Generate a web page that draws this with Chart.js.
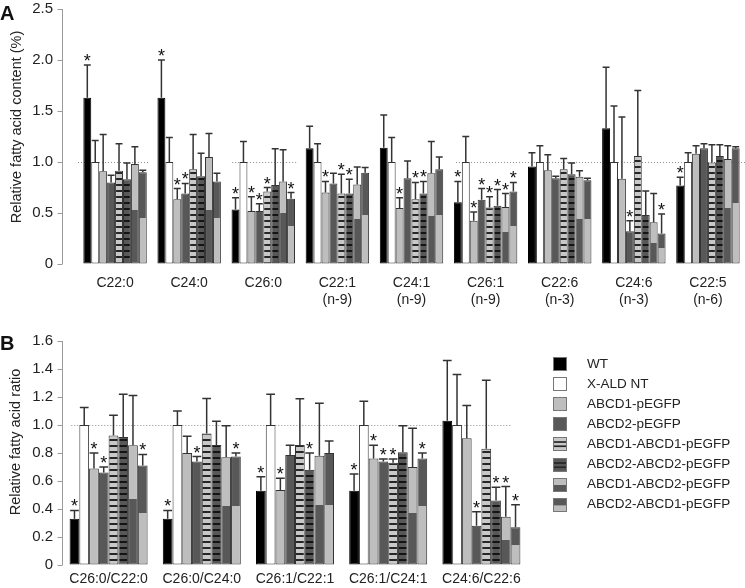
<!DOCTYPE html>
<html>
<head>
<meta charset="utf-8">
<script src="https://cdn.jsdelivr.net/npm/chart.js@4.4.1/dist/chart.umd.min.js"></script>
<style>
  html, body { margin: 0; padding: 0; background: #fff; }
  #wrap { position: relative; width: 745px; height: 588px; overflow: hidden;
          font-family: "Liberation Sans", Arial, sans-serif; color: #111; }
  canvas { position: absolute; left: 0; }
  #chartA { top: 0; }
  #chartB { top: 315px; }
  .panel { position: absolute; left: 0; font-weight: bold; font-size: 20px; line-height: 20px; }
</style>
</head>
<body>
<div id="wrap">
  <canvas id="chartA" width="745" height="310"></canvas>
  <canvas id="chartB" width="745" height="273"></canvas>
  <div class="panel" style="top:3px">A</div>
  <div class="panel" style="top:333px">B</div>
</div>
<script>
// strains, in legend order
var strains = ['WT', 'X-ALD NT', 'ABCD1-pEGFP', 'ABCD2-pEGFP',
  'ABCD1-ABCD1-pEGFP', 'ABCD2-ABCD2-pEGFP', 'ABCD1-ABCD2-pEGFP', 'ABCD2-ABCD1-pEGFP'];

// panel A categories and y ticks
var fattyAcids = [['C22:0'], ['C24:0'], ['C26:0'], ['C22:1', '(n-9)'], ['C24:1', '(n-9)'],
  ['C26:1', '(n-9)'], ['C22:6', '(n-3)'], ['C24:6', '(n-3)'], ['C22:5', '(n-6)']];
var ticksA = [0, 0.5, 1.0, 1.5, 2.0, 2.5];

// panel A: mean, one row per strain
var meanA = [
  [1.63, 1.63, 0.535, 1.135, 1.14, 0.605, 0.955, 1.33, 0.77],
  [1.0, 1.0, 1.0, 1.0, 1.0, 1.0, 1.0, 1.0, 1.0],
  [0.91, 0.635, 0.52, 0.70, 0.55, 0.425, 0.92, 0.835, 1.08],
  [0.80, 0.69, 0.52, 0.79, 0.84, 0.63, 0.84, 0.32, 1.135],
  [0.915, 0.93, 0.71, 0.69, 0.635, 0.555, 0.93, 1.06, 0.995],
  [0.83, 0.86, 0.775, 0.69, 0.69, 0.57, 0.88, 0.48, 1.06],
  [0.98, 1.05, 0.81, 0.78, 0.89, 0.56, 0.855, 0.41, 1.03],
  [0.90, 0.81, 0.64, 0.895, 0.93, 0.71, 0.82, 0.30, 1.135]
];
// panel A: SD (upper error bar)
var sdA = [
  [0.32, 0.37, 0.115, 0.215, 0.32, 0.205, 0.135, 0.60, 0.08],
  [0.21, 0.24, 0.20, 0.18, 0.24, 0.25, 0.16, 0.55, 0.09],
  [0.36, 0.105, 0.14, 0.11, 0.10, 0.085, 0.15, 0.605, 0.08],
  [0.07, 0.10, 0.07, 0.10, 0.17, 0.11, 0.02, 0.105, 0.045],
  [0.265, 0.34, 0.04, 0.19, 0.165, 0.105, 0.105, 0.64, 0.175],
  [0.16, 0.225, 0.355, 0.14, 0.12, 0.16, 0.11, 0.235, 0.11],
  [0.17, 0.23, 0.31, 0.17, 0.31, 0.13, 0.06, 0.28, 0.13],
  [0.02, 0.08, 0.06, 0.05, 0.12, 0.09, 0.02, 0.19, 0.015]
];
// panel A: significance (*)
var starA = [
  [1, 1, 1, 0, 0, 1, 0, 0, 1],
  [0, 0, 0, 0, 0, 0, 0, 0, 0],
  [0, 1, 1, 1, 1, 1, 0, 0, 0],
  [0, 1, 1, 0, 0, 1, 0, 1, 0],
  [0, 0, 1, 1, 1, 1, 0, 0, 0],
  [0, 0, 0, 1, 1, 1, 0, 0, 0],
  [0, 0, 0, 0, 0, 1, 0, 0, 0],
  [0, 0, 1, 0, 0, 1, 0, 1, 0]
];
// panel A: height of the lower colour in the two-tone bars
var lowA12 = [0.53, 0.53, 0.50, 0.44, 0.47, 0.31, 0.44, 0.21, 0.545];
var lowA21 = [0.45, 0.45, 0.37, 0.48, 0.48, 0.37, 0.44, 0.155, 0.595];

// panel B
var ratios = ['C26:0/C22:0', 'C26:0/C24:0', 'C26:1/C22:1', 'C26:1/C24:1', 'C24:6/C22:6'];
var ticksB = [0, 0.2, 0.4, 0.6, 0.8, 1.0, 1.2, 1.4, 1.6];
var meanB = [
  [0.33, 0.33, 0.53, 0.53, 1.03],
  [1.0, 1.0, 1.0, 1.0, 1.0],
  [0.69, 0.80, 0.535, 0.76, 0.905],
  [0.66, 0.74, 0.785, 0.74, 0.28],
  [0.925, 0.94, 0.857, 0.73, 0.83],
  [0.915, 0.857, 0.68, 0.805, 0.46],
  [0.855, 0.77, 0.78, 0.70, 0.345],
  [0.71, 0.775, 0.80, 0.76, 0.27]
];
var sdB = [
  [0.06, 0.06, 0.10, 0.12, 0.43],
  [0.125, 0.10, 0.22, 0.17, 0.36],
  [0.11, 0.12, 0.085, 0.095, 0.235],
  [0.04, 0.035, 0.07, 0.017, 0.10],
  [0.145, 0.25, 0.33, 0.027, 0.49],
  [0.305, 0.17, 0.12, 0.19, 0.095],
  [0.355, 0.225, 0.375, 0.276, 0.215],
  [0.08, 0.025, 0.085, 0.04, 0.16]
];
var starB = [
  [1, 1, 1, 1, 0],
  [0, 0, 0, 0, 0],
  [1, 0, 1, 1, 0],
  [1, 1, 0, 1, 1],
  [0, 0, 0, 1, 0],
  [0, 0, 1, 0, 1],
  [0, 0, 0, 0, 1],
  [1, 1, 0, 1, 1]
];
var lowB12 = [0.47, 0.42, 0.43, 0.374, 0.18];
var lowB21 = [0.37, 0.42, 0.43, 0.42, 0.14];

Chart.defaults.font.family = '"Liberation Sans", Arial, sans-serif';
Chart.defaults.color = '#222';

var LIGHT = '#bebebe';
var DARK = '#585858';
var LINE = '#262626';
var EDGE = '#333333';

function stripes(cell, line) {
  var c = document.createElement('canvas');
  c.width = 6; c.height = 6;
  var g = c.getContext('2d');
  g.fillStyle = cell; g.fillRect(0, 0, 6, 6);
  g.fillStyle = line; g.fillRect(0, 4, 6, 2);
  return g.createPattern(c, 'repeat');
}

// light/dark split bar, the split read from the lows array
function twoTone(top, bottom, means, lows) {
  return function (ctx) {
    var y = ctx.chart.scales.y;
    var i = ctx.dataIndex;
    if (!y || i === undefined) return top;
    var yTop = y.getPixelForValue(means[i]);
    var yBase = y.getPixelForValue(0);
    if (!isFinite(yTop) || !isFinite(yBase) || yBase <= yTop) return top;
    var f = 1 - lows[i] / means[i];
    var grad = ctx.chart.ctx.createLinearGradient(0, yTop, 0, yBase);
    grad.addColorStop(0, top);
    grad.addColorStop(f, top);
    grad.addColorStop(f, bottom);
    grad.addColorStop(1, bottom);
    return grad;
  };
}

function buildDatasets(means, sds, stars, low12, low21) {
  var fills = ['#000000', '#ffffff', LIGHT, DARK,
    stripes('#c8c8c8', LINE), stripes(DARK, '#141414'),
    twoTone(LIGHT, DARK, means[6], low12), twoTone(DARK, LIGHT, means[7], low21)];
  return strains.map(function (name, i) {
    return {
      label: name,
      data: means[i],
      sd: sds[i],
      stars: stars[i],
      backgroundColor: fills[i],
      borderColor: i === 0 ? '#000' : EDGE,
      borderWidth: 1,
      borderSkipped: false
    };
  });
}

function paintSwatch(g, i, x, y, s) {
  function band(c, a, b) { g.fillStyle = c; g.fillRect(x, y + a * s, s, (b - a) * s); }
  var solid = ['#000000', '#ffffff', LIGHT, DARK];
  if (i === 4 || i === 5) {
    band(i === 4 ? '#c8c8c8' : DARK, 0, 1);
    band(LINE, 0.3, 0.42); band(LINE, 0.6, 0.72);
  } else if (i === 6) {
    band(LIGHT, 0, 0.5); band(DARK, 0.5, 1);
  } else if (i === 7) {
    band(DARK, 0, 0.55); band(LIGHT, 0.55, 1);
  } else {
    band(solid[i], 0, 1);
  }
  g.strokeStyle = '#777'; g.lineWidth = 1;
  g.strokeRect(x + 0.5, y + 0.5, s - 1, s - 1);
}

var errorBars = {
  id: 'errorBars',
  afterDatasetsDraw: function (chart) {
    var g = chart.ctx, y = chart.scales.y;
    g.save();
    chart.data.datasets.forEach(function (ds, i) {
      chart.getDatasetMeta(i).data.forEach(function (bar, j) {
        var top = y.getPixelForValue(ds.data[j] + ds.sd[j]);
        var half = bar.width / 2 - 0.5;
        g.strokeStyle = EDGE; g.lineWidth = 1.5;
        g.beginPath();
        g.moveTo(bar.x, bar.y); g.lineTo(bar.x, top);
        g.moveTo(bar.x - half, top); g.lineTo(bar.x + half, top);
        g.stroke();
        if (ds.stars[j]) {
          g.fillStyle = '#111'; g.font = '18px "Liberation Sans", Arial';
          g.textAlign = 'center'; g.textBaseline = 'alphabetic';
          g.fillText('*', bar.x, top + 2);
        }
      });
    });
    g.restore();
  }
};

var refLine = {
  id: 'refLine',
  beforeDatasetsDraw: function (chart, args, o) {
    var x = chart.scales.x, y = chart.scales.y, g = chart.ctx;
    var py = Math.round(y.getPixelForValue(o.value)) + 0.5;
    g.save();
    g.strokeStyle = '#8c8c8c'; g.lineWidth = 1; g.setLineDash([1, 2]);
    o.spans.forEach(function (s) {
      g.beginPath();
      g.moveTo(x.getPixelForValue(s[0]), py);
      g.lineTo(x.getPixelForValue(s[1]), py);
      g.stroke();
    });
    g.restore();
  }
};

var axisLine = {
  id: 'axisLine',
  afterDraw: function (chart, args, o) {
    var y = chart.scales.y, g = chart.ctx, ax = o.x + 0.5;
    g.save();
    g.strokeStyle = '#9a9a9a'; g.lineWidth = 1;
    g.beginPath();
    g.moveTo(ax, y.getPixelForValue(y.max));
    g.lineTo(ax, y.getPixelForValue(y.min));
    y.ticks.forEach(function (t) {
      var p = Math.round(y.getPixelForValue(t.value)) + 0.5;
      g.moveTo(ax - 5, p); g.lineTo(ax, p);
    });
    g.stroke();
    g.restore();
  }
};

var sideTitle = {
  id: 'sideTitle',
  afterDraw: function (chart, args, o) {
    var g = chart.ctx;
    g.save();
    g.translate(o.x, o.y); g.rotate(-Math.PI / 2);
    g.fillStyle = '#222'; g.font = o.size + 'px "Liberation Sans", Arial';
    g.textAlign = 'center'; g.textBaseline = 'middle';
    g.fillText(o.text, 0, 0);
    g.restore();
  }
};

var swatchLegend = {
  id: 'swatchLegend',
  afterDraw: function (chart, args, o) {
    var g = chart.ctx;
    g.save();
    strains.forEach(function (name, i) {
      var cy = o.top + i * o.step;
      paintSwatch(g, i, o.left, Math.round(cy - o.box / 2), o.box);
      g.fillStyle = '#222'; g.font = o.size + 'px "Liberation Sans", Arial';
      g.textAlign = 'left'; g.textBaseline = 'middle';
      g.fillText(name, o.textLeft, cy);
    });
    g.restore();
  }
};

// the gap between labels and plot comes from an invisible tick length,
// so it does not add to the top padding of the axis
function yScale(ticks, gap, width) {
  return {
    min: ticks[0], max: ticks[ticks.length - 1],
    ticks: {
      stepSize: ticks[1] - ticks[0], padding: 0, color: '#222', font: { size: 15 },
      callback: function (v) { return v === 0 ? '0' : v.toFixed(1); }
    },
    grid: { display: true, drawOnChartArea: false, drawTicks: true, tickLength: gap,
            color: 'rgba(0,0,0,0)' },
    border: { display: false },
    afterFit: function (s) { s.width = width; }
  };
}

function xScale(pad, height) {
  return {
    ticks: { padding: pad, color: '#222', font: { size: 14 }, maxRotation: 0, autoSkip: false },
    grid: { display: false, drawTicks: false },
    border: { display: false },
    afterFit: function (s) { s.height = height; }
  };
}

var chartA = new Chart(document.getElementById('chartA'), {
  type: 'bar',
  data: { labels: fattyAcids, datasets: buildDatasets(meanA, sdA, starA, lowA12, lowA21) },
  options: {
    responsive: false, animation: false, devicePixelRatio: 1,
    layout: { padding: { top: 9, right: 0, bottom: 0, left: 0 } },
    datasets: { bar: { categoryPercentage: 0.856, barPercentage: 1 } },
    plugins: {
      legend: { display: false }, tooltip: { enabled: false },
      refLine: { value: 1, spans: [[-0.5, 0.47], [1.58, 2.45], [4.6, 8.6]] },
      axisLine: { x: 62 },
      sideTitle: { text: 'Relative fatty acid content (%)', x: 16.5, y: 127, size: 14.5 }
    },
    scales: { x: xScale(11, 46), y: yScale(ticksA, 25, 78) }
  },
  plugins: [refLine, errorBars, axisLine, sideTitle]
});

var chartB = new Chart(document.getElementById('chartB'), {
  type: 'bar',
  data: { labels: ratios, datasets: buildDatasets(meanB, sdB, starB, lowB12, lowB21) },
  options: {
    responsive: false, animation: false, devicePixelRatio: 1,
    layout: { padding: { top: 26, right: 217, bottom: 0, left: 0 } },
    datasets: { bar: { categoryPercentage: 0.837, barPercentage: 1 } },
    plugins: {
      legend: { display: false }, tooltip: { enabled: false },
      refLine: { value: 1, spans: [[-0.4, 4.33]] },
      axisLine: { x: 62 },
      sideTitle: { text: 'Relative fatty acid ratio', x: 15.5, y: 127, size: 14.5 },
      swatchLegend: { left: 553, textLeft: 587, top: 49, step: 20.1, box: 14, size: 13.5 }
    },
    scales: { x: xScale(6, 23), y: yScale(ticksB, 9, 62) }
  },
  plugins: [refLine, errorBars, axisLine, sideTitle, swatchLegend]
});
</script>
</body>
</html>
